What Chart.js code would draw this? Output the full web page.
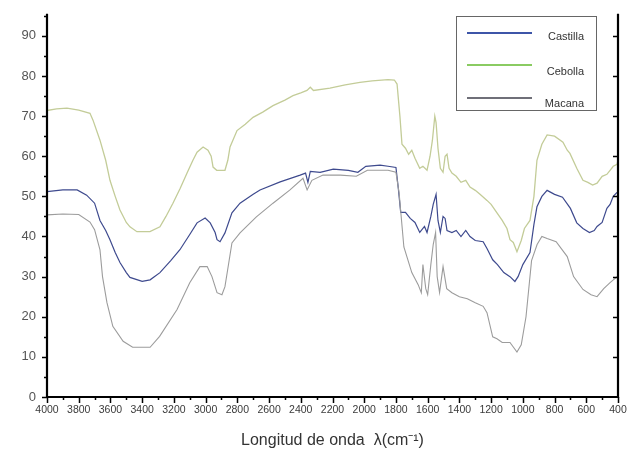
<!DOCTYPE html>
<html>
<head>
<meta charset="utf-8">
<script src="https://cdn.jsdelivr.net/npm/chart.js@4.4.1/dist/chart.umd.min.js"></script>
<style>
  html, body { margin: 0; padding: 0; background: #ffffff; }
  #wrap { width: 629px; height: 464px; position: relative; }
</style>
</head>
<body>
<div id="wrap"><canvas id="c" width="629" height="464"></canvas></div>
<script>
// ---- Data (wavenumber cm-1, transmittance %) ----
const seriesNames = ["Castilla", "Cebolla", "Macana"];
const xTickValues = [4000,3800,3600,3400,3200,3000,2800,2600,2400,2200,2000,1800,1600,1400,1200,1000,800,600,400];
const yTickValues = [0,10,20,30,40,50,60,70,80,90];

const cebollaX = [4000,3940,3874,3800,3729,3710,3666,3630,3603,3570,3540,3500,3477,3433,3351,3288,3250,3206,3160,3117,3080,3054,3016,2985,2965,2953,2930,2878,2860,2846,2802,2750,2701,2640,2575,2500,2449,2400,2361,2340,2320,2216,2120,2027,1950,1850,1810,1793,1775,1762,1740,1720,1700,1680,1650,1630,1604,1585,1570,1555,1547,1535,1520,1503,1490,1478,1465,1447,1420,1390,1360,1333,1300,1270,1226,1200,1163,1130,1100,1081,1060,1037,1010,990,955,930,911,880,847,800,747,720,703,660,621,590,560,532,500,470,450,430,406,400];
const cebollaY = [71.4,71.8,72,71.5,70.7,69,64,59,54,50,46.6,43.5,42.4,41.2,41.2,42.4,45,48.3,52,55.8,59,61,62.3,61.5,60,57.3,56.5,56.5,59,62.3,66.4,68,69.7,71,72.6,74,75.1,75.8,76.4,77.2,76.4,77,77.8,78.4,78.8,79.1,79,78,70,63,62,60.5,61.5,59.5,57,57.5,56.5,60,64,70,68.4,62,57,56,60,60.5,57,55.8,55,53.5,54,52.3,51.5,50.5,49,48,45.9,44,42,39.2,38.5,36.2,39,42,44,50,59,63,65.3,65,63.5,61.5,60.7,57,54,53.5,52.8,53.3,55,55.5,56.5,57.5,58,59];

const castillaX = [4000,3900,3810,3750,3700,3666,3630,3603,3570,3540,3500,3477,3400,3350,3288,3220,3162,3100,3054,3003,2971,2940,2928,2909,2878,2834,2783,2700,2657,2530,2404,2370,2355,2340,2278,2195,2100,2040,1990,1900,1850,1800,1785,1770,1740,1710,1680,1650,1620,1604,1580,1565,1547,1535,1520,1503,1490,1478,1447,1420,1390,1360,1333,1300,1250,1226,1190,1160,1120,1081,1050,1030,1000,955,930,911,880,847,800,750,700,660,621,580,550,532,500,470,450,430,406];
const castillaY = [51.2,51.6,51.6,50.3,48.3,44,41.5,39.2,36,33.5,31,29.8,28.8,29.2,31,34,36.7,40.5,43.4,44.6,43.4,41,39.2,38.7,40.9,45.9,48.3,50.5,51.6,53.6,55.3,55.8,53.5,56.2,56,56.8,56.5,56,57.5,57.8,57.5,57.2,52,46,46,44.5,43.5,41,42.5,41,45,48,50.5,44,41,45,44.5,41.5,41,41.5,40,41.5,40,39,38.7,37,34.2,33,31,30,28.8,30,33,36,43,47.4,50,51.5,50.5,49.8,47,43.4,42,41,41.5,42.5,43.5,47,48,50,51];

const macanaX = [4000,3900,3800,3729,3700,3666,3650,3622,3585,3520,3460,3350,3290,3180,3100,3036,2990,2960,2928,2897,2878,2834,2783,2680,2575,2468,2386,2360,2330,2260,2150,2050,1980,1850,1800,1780,1750,1700,1660,1640,1630,1612,1600,1580,1565,1550,1540,1525,1503,1480,1447,1400,1350,1300,1250,1226,1190,1163,1130,1081,1037,1010,980,945,910,880,847,790,720,680,621,570,532,490,450,420,406];
const macanaY = [45.4,45.6,45.5,43.6,41.7,36.7,30,23.5,17.6,13.9,12.4,12.4,15.1,21.8,28.5,32.5,32.5,30,26,25.5,27.5,38.4,40.9,44.9,48.3,51.6,54.5,51.6,54,55.3,55.3,55,56.5,56.5,56,50.8,37.4,31,28,26,33,27,25.5,33,38,41,30,26,32.5,27,26,25,24.5,23.5,22.6,21,15,14.5,13.6,13.6,11.2,13,20,34,38,40,39.5,38.7,35,30,26.8,25.5,25,27,28.5,29.5,30];

const toPts = (xs, ys) => xs.map((x, i) => ({ x: x, y: ys[i] }));

const FONT = "'Liberation Sans', Arial, Helvetica, sans-serif";

// decorations: axis lines, major/minor ticks, legend box
const decor = {
  id: 'decor',
  afterDraw(chart) {
    const { ctx, chartArea: a, scales } = chart;
    const xs = scales.x, ys = scales.y;
    ctx.save();
    ctx.strokeStyle = '#000';
    ctx.lineCap = 'butt';
    ctx.lineWidth = 1.5;
    ctx.beginPath();
    for (let v = 0; v <= 95; v += 5) {
      const py = Math.round(ys.getPixelForValue(v)) + 0.5;
      const len = (v % 10 === 0) ? 5 : 3;
      ctx.moveTo(a.left - len, py); ctx.lineTo(a.left, py);
      if (v % 10 === 0 && v > 0) { ctx.moveTo(a.right, py); ctx.lineTo(a.right - 5, py); }
    }
    for (let w = 4000; w >= 400; w -= 100) {
      const px = Math.round(xs.getPixelForValue(w)) + 0.5;
      const len = (w % 200 === 0) ? 6 : 3;
      ctx.moveTo(px, a.bottom); ctx.lineTo(px, a.bottom + len);
    }
    ctx.stroke();
    ctx.lineWidth = 2.2;
    ctx.beginPath();
    ctx.moveTo(a.left, a.top); ctx.lineTo(a.left, a.bottom);
    ctx.lineTo(a.right, a.bottom); ctx.lineTo(a.right, a.top);
    ctx.stroke();

    // legend
    const lx = 456, ly = 16, lw = 140, lh = 94;
    ctx.fillStyle = '#fff';
    ctx.fillRect(lx, ly, lw, lh);
    ctx.lineWidth = 1;
    ctx.strokeStyle = '#666';
    ctx.strokeRect(lx + 0.5, ly + 0.5, lw, lh);
    const items = [
      { name: seriesNames[0], color: '#3d55a8', y: 33, ty: 37 },
      { name: seriesNames[1], color: '#8acb62', y: 65, ty: 72 },
      { name: seriesNames[2], color: '#6f6f78', y: 98, ty: 104 }
    ];
    ctx.font = '11px ' + FONT;
    ctx.textAlign = 'right';
    ctx.textBaseline = 'middle';
    items.forEach(it => {
      ctx.strokeStyle = it.color;
      ctx.lineWidth = 2;
      ctx.beginPath();
      ctx.moveTo(467, it.y); ctx.lineTo(532, it.y);
      ctx.stroke();
      ctx.fillStyle = '#333';
      ctx.fillText(it.name, 584, it.ty);
    });
    ctx.restore();
  }
};

new Chart(document.getElementById('c'), {
  type: 'line',
  data: {
    datasets: [
      { label: seriesNames[1], data: toPts(cebollaX, cebollaY), borderColor: '#c3cc98', borderWidth: 1.3, pointRadius: 0, tension: 0, fill: false },
      { label: seriesNames[2], data: toPts(macanaX, macanaY), borderColor: '#9c9c9c', borderWidth: 1.1, pointRadius: 0, tension: 0, fill: false },
      { label: seriesNames[0], data: toPts(castillaX, castillaY), borderColor: '#3e4a8e', borderWidth: 1.2, pointRadius: 0, tension: 0, fill: false }
    ]
  },
  options: {
    responsive: false,
    animation: false,
    layout: { padding: { top: 12, right: 11, bottom: 14, left: 0 } },
    plugins: { legend: { display: false }, tooltip: { enabled: false } },
    scales: {
      x: {
        type: 'linear', reverse: true, min: 400, max: 4000,
        afterBuildTicks: s => { s.ticks = xTickValues.map(v => ({ value: v })); },
        afterFit: s => { s.height = 53; s.paddingLeft = 0; s.paddingRight = 0; },
        grid: { display: true, drawOnChartArea: false, color: 'rgba(0,0,0,0)', tickLength: 6 },
        border: { display: false },
        ticks: { autoSkip: false, maxRotation: 0, minRotation: 0, padding: 1, color: '#3a3a3a', font: { family: FONT, size: 10.5 }, callback: v => String(v) },
        title: { display: true, text: 'Longitud de onda  \u03bb(cm\u207b\u00b9)', color: '#333', font: { family: FONT, size: 16 }, padding: { top: 4, bottom: 0 } }
      },
      y: {
        type: 'linear', min: 0, max: 95.5,
        afterBuildTicks: s => { s.ticks = yTickValues.map(v => ({ value: v })); },
        afterFit: s => { s.width = 47; },
        grid: { display: true, drawOnChartArea: false, color: 'rgba(0,0,0,0)', tickLength: 5 },
        border: { display: false },
        ticks: { padding: 6, color: '#555', font: { family: FONT, size: 13 } }
      }
    }
  },
  plugins: [decor]
});
</script>
</body>
</html>
